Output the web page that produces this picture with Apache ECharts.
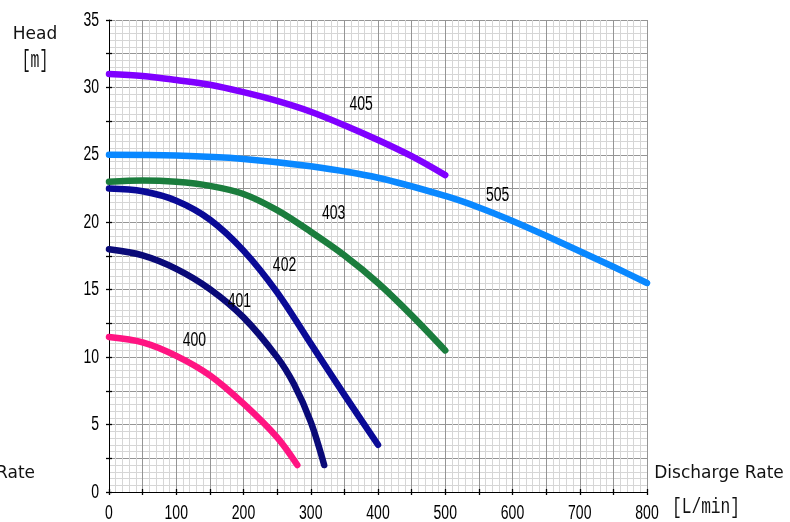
<!DOCTYPE html>
<html>
<head>
<meta charset="utf-8">
<script src="https://cdn.jsdelivr.net/npm/echarts@6/dist/echarts.min.js"></script>
<style>
  html, body { margin: 0; padding: 0; background: #fff; }
  #chart { width: 790px; height: 522px; }
</style>
</head>
<body>
<div id="chart"></div>
<script>
// Pump performance curves: head [m] versus discharge rate [L/min]
const models = ['405', '505', '403', '402', '401', '400'];
const colors = ['#8000ff', '#0a88ff', '#1b7d3d', '#0a0a96', '#0a0a78', '#ff1482'];

const flow405 = [0, 50, 100, 150, 200, 250, 300, 350, 400, 450, 500];
const head405 = [31, 30.85, 30.55, 30.2, 29.65, 29.0, 28.2, 27.2, 26.1, 24.9, 23.5];

const flow505 = [0, 100, 200, 300, 400, 500, 550, 600, 650, 700, 750, 800];
const head505 = [25, 24.95, 24.7, 24.15, 23.3, 21.95, 21.1, 20.1, 19.0, 17.85, 16.7, 15.5];

const flow403 = [0, 50, 100, 150, 200, 250, 300, 350, 400, 450, 500];
const head403 = [23, 23.1, 23.0, 22.7, 22.1, 20.9, 19.3, 17.55, 15.5, 13.1, 10.5];

const flow402 = [0, 50, 100, 150, 200, 250, 300, 350, 400];
const head402 = [22.5, 22.3, 21.6, 20.2, 17.9, 14.8, 11.0, 7.2, 3.5];

const flow401 = [0, 50, 100, 150, 200, 250, 275, 300, 320];
const head401 = [18, 17.55, 16.55, 15.05, 12.95, 10.0, 8.0, 5.2, 2];

const flow400 = [0, 50, 100, 150, 200, 250, 280];
const head400 = [11.5, 11.1, 10.1, 8.65, 6.55, 4.05, 2];

// Where each model number is written next to its curve (flow, head)
const tagFlow = [375, 578, 334, 261, 194, 127];
const tagHead = [28.7, 22.0, 20.66, 16.8, 14.1, 11.2];

const xTickValues = [0, 100, 200, 300, 400, 500, 600, 700, 800];
const xTickLabels = ['0', '100', '200', '300', '400', '500', '600', '700', '800'];
const yTickValues = [0, 5, 10, 15, 20, 25, 30, 35];
const yTickLabels = ['0', '5', '10', '15', '20', '25', '30', '35'];

const flows = [flow405, flow505, flow403, flow402, flow401, flow400];
const heads = [head405, head505, head403, head402, head401, head400];

const sans = "'Liberation Sans', Arial, sans-serif";
const wide = "'DejaVu Sans', Verdana, sans-serif";
const mono = "'Liberation Mono', 'DejaVu Sans Mono', monospace";

const pair = (xs, ys) => xs.map((x, i) => [x, ys[i]]);

const curveSeries = models.map((name, k) => ({
  name: name,
  type: 'line',
  xAxisIndex: 0,
  yAxisIndex: 0,
  data: pair(flows[k], heads[k]),
  smooth: 0.33,
  showSymbol: false,
  symbol: 'none',
  lineStyle: { color: colors[k], width: 6.5, cap: 'round', join: 'round' },
  z: 5
}));

const xBase = { type: 'value', min: 0, max: 800, interval: 50, gridIndex: 0 };
const yBase = { type: 'value', min: 0, max: 35, interval: 2.5, gridIndex: 0 };

const tickStyle = { color: '#000', width: 1.3 };

const chart = echarts.init(document.getElementById('chart'), null, { renderer: 'canvas' });
chart.setOption({
  animation: false,
  backgroundColor: '#fff',
  grid: { left: 109, right: 143, top: 20, bottom: 30, containLabel: false },
  xAxis: [
    Object.assign({}, xBase, {
      position: 'bottom',
      axisLine: { show: true, lineStyle: { color: '#000', width: 1 } },
      axisTick: { show: true, inside: false, length: 3, lineStyle: tickStyle },
      axisLabel: { show: false },
      splitLine: { show: true, lineStyle: { color: '#959595', width: 1 } },
      minorTick: { show: false, splitNumber: 5 },
      minorSplitLine: { show: true, lineStyle: { color: '#d6d6d6', width: 1 } }
    }),
    Object.assign({}, xBase, {
      position: 'bottom',
      axisLine: { show: false },
      axisTick: { show: true, inside: true, length: 3, lineStyle: tickStyle },
      axisLabel: { show: false },
      splitLine: { show: false }
    })
  ],
  yAxis: [
    Object.assign({}, yBase, {
      position: 'left',
      axisLine: { show: true, lineStyle: { color: '#000', width: 1 } },
      axisTick: { show: true, inside: false, length: 3, lineStyle: tickStyle },
      axisLabel: { show: false },
      splitLine: { show: true, lineStyle: { color: '#959595', width: 1 } },
      minorTick: { show: false, splitNumber: 5 },
      minorSplitLine: { show: true, lineStyle: { color: '#d6d6d6', width: 1 } }
    }),
    Object.assign({}, yBase, {
      position: 'left',
      axisLine: { show: false },
      axisTick: { show: true, inside: true, length: 3, lineStyle: tickStyle },
      axisLabel: { show: false },
      splitLine: { show: false }
    })
  ],
  series: curveSeries
});

// Condensed numerals and titles, placed through the axes' own scales
function narrowText(x, y, text, size, align, scaleX) {
  return {
    type: 'text', x: x, y: y, scaleX: scaleX, z: 10,
    style: { text: text, font: size + 'px ' + sans, fill: '#000',
             textAlign: align, textVerticalAlign: 'middle' }
  };
}

const graphics = [];
const xOrigin = chart.convertToPixel({ xAxisIndex: 0 }, 0);
const yOrigin = chart.convertToPixel({ yAxisIndex: 0 }, 0);

xTickValues.forEach((v, i) => {
  const px = chart.convertToPixel({ xAxisIndex: 0 }, v);
  graphics.push(narrowText(px, yOrigin + 21, xTickLabels[i], 20, 'center', 0.7));
});
yTickValues.forEach((v, i) => {
  const py = chart.convertToPixel({ yAxisIndex: 0 }, v);
  graphics.push(narrowText(xOrigin - 10, py, yTickLabels[i], 20, 'right', 0.7));
});
models.forEach((name, k) => {
  const p = chart.convertToPixel({ xAxisIndex: 0, yAxisIndex: 0 }, [tagFlow[k], tagHead[k]]);
  graphics.push(narrowText(p[0], p[1], name, 20, 'center', 0.7));
});

graphics.push(
  { type: 'text', x: 35, y: 35, z: 10,
    style: { text: 'Head', font: '17px ' + wide, fill: '#111', textAlign: 'center', textVerticalAlign: 'middle' } },
  { type: 'text', x: 35, y: 61, z: 10, scaleX: 0.82, scaleY: 1.3,
    style: { text: '[m]', font: '18px ' + mono, fill: '#111', textAlign: 'center', textVerticalAlign: 'middle' } },
  { type: 'text', x: 719, y: 474, z: 10,
    style: { text: 'Discharge Rate', font: '17px ' + wide, fill: '#111', textAlign: 'center', textVerticalAlign: 'middle' } },
  { type: 'text', x: 706, y: 507, z: 10, scaleX: 0.9, scaleY: 1.25,
    style: { text: '[L/min]', font: '18px ' + mono, fill: '#111', textAlign: 'center', textVerticalAlign: 'middle' } },
  { type: 'text', x: 35, y: 474, z: 10,
    style: { text: 'Discharge Rate', font: '17px ' + wide, fill: '#111', textAlign: 'right', textVerticalAlign: 'middle' } }
);

chart.setOption({ graphic: graphics });
</script>
</body>
</html>
